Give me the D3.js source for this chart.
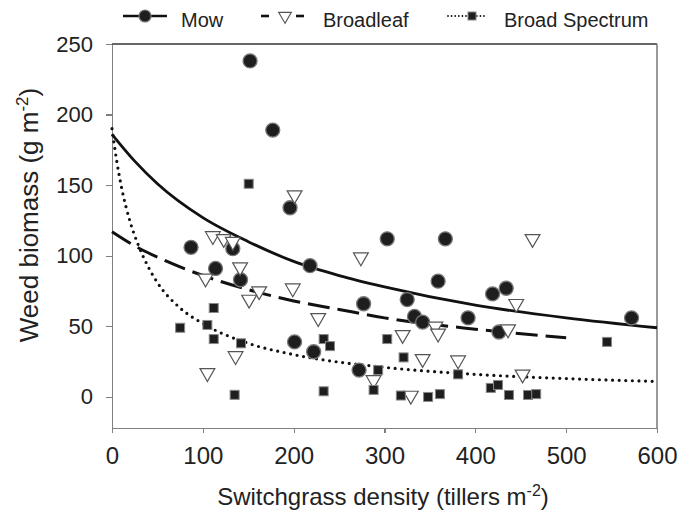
<!DOCTYPE html>
<html>
<head>
<meta charset="utf-8">
<script src="https://cdn.jsdelivr.net/npm/d3@7/dist/d3.min.js"></script>
<style>
    body { margin: 0; background: #fff; }
    text { font-family: "Liberation Sans", Arial, sans-serif; fill: #222; }
    .axis path, .axis line { stroke: #808080; stroke-width: 1.2; shape-rendering: crispEdges; }
    .axis text { fill: #222; }
</style>
</head>
<body>
<svg id="chart"></svg>
<script>
// observed points [density, biomass]
var mowPoints = [[152,238],[177,189],[196,134],[87,106],[133,105],[114,91],[141.5,83],[201,39],
    [218,93],[222,32],[272,19],[277,66],[303,112],[325,69],[333,57],[342,53],[359,82],[367,112],
    [392,56],[419,73],[426,46],[434,77],[572,56]];
var broadleafPoints = [[111,114],[123,112],[133,110],[201,143],[141,92],[103,84],[162,75],[151,69],
    [199,77],[136,29],[105,17],[274,99],[227,56],[320,44],[342,27],[356,50],[359,45],[381,26],
    [288,12],[329,1],[463,112],[445,66],[436,48],[452,16]];
var spectrumPoints = [[150.5,151],[112,63],[75,49],[105,51],[112,41],[142,38],[135,1.5],[233,41],
    [240,36],[303,41],[321,28],[293,19],[288,5],[233,4],[318,1],[348,0],[361,2],[381,16],[545,39],
    [417,6.4],[425,8.5],[437,1.4],[458,1.4],[467,2]];

// fitted curves
var mowCurve = [[0,186],[25,167],[50,151],[100,127],[150,110],[200,96],[250,86],[300,78],[400,65],[500,56],[600,49]];
var broadleafCurve = [[0,117],[25,107],[50,99],[100,86],[150,76],[200,68],[250,62],[300,56],[400,48],[500,42]];
var spectrumCurve = [[0,190],[5,168],[10,150],[20,124],[30,106],[40,92],[50,81],[75,63],[100,52],[150,38],
    [200,30],[300,21],[400,16],[500,13],[600,11]];

var xTicks = [0, 100, 200, 300, 400, 500, 600];
var yTicks = [0, 50, 100, 150, 200, 250];
var legendLabels = ["Mow", "Broadleaf", "Broad Spectrum"];

var margin = { top: 44, left: 112, bottom: 84, right: 34 },
    width = 691 - margin.left - margin.right,
    height = 512 - margin.top - margin.bottom;

var root = d3.select("#chart")
    .attr("width", 691)
    .attr("height", 512);

var svg = root.append("g")
    .attr("transform", "translate(" + margin.left + "," + margin.top + ")");

var x = d3.scaleLinear().domain([0, 600]).range([0, width]);
var y = d3.scaleLinear().domain([-22, 250]).range([height, 0]);

// frame top / right
svg.append("line").attr("x1", 0).attr("x2", width).attr("y1", 0).attr("y2", 0)
    .attr("stroke", "#333").attr("stroke-width", 1.5);
svg.append("line").attr("x1", width).attr("x2", width).attr("y1", 0).attr("y2", height)
    .attr("stroke", "#777").attr("stroke-width", 1.5);

var xAxis = d3.axisBottom(x).tickValues(xTicks).tickSizeInner(5).tickSizeOuter(0).tickPadding(14);
svg.append("g")
    .attr("class", "axis")
    .attr("transform", "translate(0," + height + ")")
    .call(xAxis)
    .selectAll("text").style("font-size", "24px");

var yAxis = d3.axisLeft(y).tickValues(yTicks).tickSizeInner(6).tickSizeOuter(0).tickPadding(13);
svg.append("g")
    .attr("class", "axis")
    .call(yAxis)
    .selectAll("text").style("font-size", "22px");

// curves
var line = d3.line()
    .x(function (d) { return x(d[0]); })
    .y(function (d) { return y(d[1]); })
    .curve(d3.curveMonotoneX);

svg.append("path").datum(mowCurve).attr("d", line)
    .attr("fill", "none").attr("stroke", "#111").attr("stroke-width", 2.8);
svg.append("path").datum(broadleafCurve).attr("d", line)
    .attr("fill", "none").attr("stroke", "#111").attr("stroke-width", 3)
    .attr("stroke-dasharray", "22,8");
svg.append("path").datum(spectrumCurve).attr("d", line)
    .attr("fill", "none").attr("stroke", "#111").attr("stroke-width", 3.2)
    .attr("stroke-linecap", "round").attr("stroke-dasharray", "0,6.6");

// markers
var tri = d3.symbol().type(d3.symbolTriangle).size(95);

svg.selectAll(".mow")
    .data(mowPoints)
    .enter().append("circle")
    .attr("class", "mow")
    .attr("cx", function (d) { return x(d[0]); })
    .attr("cy", function (d) { return y(d[1]); })
    .attr("r", 7)
    .attr("fill", "#1e1e1e")
    .attr("stroke", "#777")
    .attr("stroke-width", 1.3);

svg.selectAll(".broadleaf")
    .data(broadleafPoints)
    .enter().append("path")
    .attr("class", "broadleaf")
    .attr("d", tri)
    .attr("transform", function (d) { return "translate(" + x(d[0]) + "," + y(d[1]) + ") rotate(180)"; })
    .attr("fill", "#fff")
    .attr("stroke", "#555")
    .attr("stroke-width", 1.2);

svg.selectAll(".spectrum")
    .data(spectrumPoints)
    .enter().append("rect")
    .attr("class", "spectrum")
    .attr("x", function (d) { return x(d[0]) - 4.5; })
    .attr("y", function (d) { return y(d[1]) - 4.5; })
    .attr("width", 9)
    .attr("height", 9)
    .attr("fill", "#1e1e1e")
    .attr("stroke", "#888")
    .attr("stroke-width", 1);

// axis titles
root.append("text")
    .attr("x", 383)
    .attr("y", 505)
    .attr("text-anchor", "middle")
    .style("font-size", "24px")
    .text("Switchgrass density (tillers m")
    .append("tspan").attr("dy", -9).style("font-size", "16px").text("-2")
    .select(function () { return this.parentNode; })
    .append("tspan").attr("dy", 9).text(")");

root.append("text")
    .attr("transform", "translate(38,215) rotate(-90)")
    .attr("text-anchor", "middle")
    .style("font-size", "26px")
    .text("Weed biomass (g m")
    .append("tspan").attr("dy", -10).style("font-size", "17px").text("-2")
    .select(function () { return this.parentNode; })
    .append("tspan").attr("dy", 10).text(")");

// legend
var lg = root.append("g");
lg.append("line").attr("x1", 123).attr("x2", 167).attr("y1", 16).attr("y2", 16)
    .attr("stroke", "#111").attr("stroke-width", 2.6);
lg.append("circle").attr("cx", 145).attr("cy", 16).attr("r", 6)
    .attr("fill", "#1e1e1e").attr("stroke", "#777").attr("stroke-width", 1.2);
lg.append("text").attr("x", 181).attr("y", 27).style("font-size", "20px").text(legendLabels[0]);

lg.append("line").attr("x1", 261).attr("x2", 269).attr("y1", 16).attr("y2", 16)
    .attr("stroke", "#111").attr("stroke-width", 2.6);
lg.append("line").attr("x1", 296).attr("x2", 304).attr("y1", 16).attr("y2", 16)
    .attr("stroke", "#111").attr("stroke-width", 2.6);
lg.append("path").attr("d", d3.symbol().type(d3.symbolTriangle).size(70))
    .attr("transform", "translate(285,16) rotate(180)")
    .attr("fill", "#fff").attr("stroke", "#555").attr("stroke-width", 1.1);
lg.append("text").attr("x", 323).attr("y", 27).style("font-size", "20px").text(legendLabels[1]);

lg.append("line").attr("x1", 448).attr("x2", 486).attr("y1", 16).attr("y2", 16)
    .attr("stroke", "#111").attr("stroke-width", 1.8)
    .attr("stroke-linecap", "round").attr("stroke-dasharray", "0,3.6");
lg.append("rect").attr("x", 468).attr("y", 12).attr("width", 8).attr("height", 8)
    .attr("fill", "#1e1e1e").attr("stroke", "#888").attr("stroke-width", 1);
lg.append("text").attr("x", 504).attr("y", 27).style("font-size", "20px").text(legendLabels[2]);
</script>
</body>
</html>
